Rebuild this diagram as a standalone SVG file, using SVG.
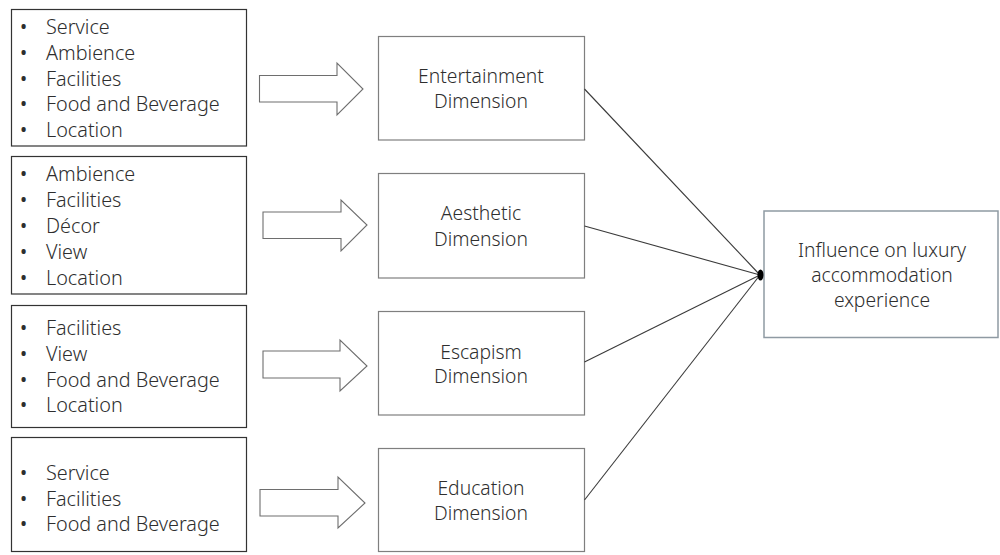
<svg xmlns="http://www.w3.org/2000/svg" width="1000" height="555" viewBox="0 0 1000 555">
<style>
text{font-family:"Noto Sans","Open Sans","Liberation Sans",sans-serif;fill:#2e2e2e;font-weight:300}
.lb{fill:#fff;stroke:#333;stroke-width:1.2}
.mb{fill:#fff;stroke:#7f7f7f;stroke-width:1.2}
.rb{fill:#fff;stroke:#8f9aa3;stroke-width:1.5}
.ar{fill:#fff;stroke:#6e6e6e;stroke-width:1.1;stroke-linejoin:miter}
.li{font-size:19.8px}
.bu{font-size:19px;font-weight:400}
.mt{font-size:19.3px;text-anchor:middle}
.cn{stroke:#3a3a3a;stroke-width:1.1;fill:none}
</style>
<rect width="1000" height="555" fill="#fff"/>
<g id="list1">
<rect class="lb" x="11.5" y="9.5" width="235" height="136.5"/>
<text class="bu" x="20" y="34">•</text><text class="li" x="46" y="34">Service</text>
<text class="bu" x="20" y="60">•</text><text class="li" x="46" y="60">Ambience</text>
<text class="bu" x="20" y="86">•</text><text class="li" x="46" y="86">Facilities</text>
<text class="bu" x="20" y="111">•</text><text class="li" x="46" y="111">Food and Beverage</text>
<text class="bu" x="20" y="137">•</text><text class="li" x="46" y="137">Location</text>
</g>
<g id="list2">
<rect class="lb" x="11.5" y="156.5" width="235" height="137.5"/>
<text class="bu" x="20" y="181">•</text><text class="li" x="46" y="181">Ambience</text>
<text class="bu" x="20" y="207">•</text><text class="li" x="46" y="207">Facilities</text>
<text class="bu" x="20" y="233">•</text><text class="li" x="46" y="233">Décor</text>
<text class="bu" x="20" y="259">•</text><text class="li" x="46" y="259">View</text>
<text class="bu" x="20" y="285">•</text><text class="li" x="46" y="285">Location</text>
</g>
<g id="list3">
<rect class="lb" x="11.5" y="305.5" width="235" height="122"/>
<text class="bu" x="20" y="335">•</text><text class="li" x="46" y="335">Facilities</text>
<text class="bu" x="20" y="361">•</text><text class="li" x="46" y="361">View</text>
<text class="bu" x="20" y="387">•</text><text class="li" x="46" y="387">Food and Beverage</text>
<text class="bu" x="20" y="412">•</text><text class="li" x="46" y="412">Location</text>
</g>
<g id="list4">
<rect class="lb" x="11.5" y="437.5" width="235" height="114"/>
<text class="bu" x="20" y="480">•</text><text class="li" x="46" y="480">Service</text>
<text class="bu" x="20" y="506">•</text><text class="li" x="46" y="506">Facilities</text>
<text class="bu" x="20" y="531">•</text><text class="li" x="46" y="531">Food and Beverage</text>
</g>
<g id="arrows">
<path class="ar" d="M259.5,75.5 H337 V63 L363,89 L337,115 V102 H259.5 Z"/>
<path class="ar" d="M263,212 H341 V200 L367,225 L341,251 V238.5 H263 Z"/>
<path class="ar" d="M263,351 H340 V340 L367,366 L340,391 V378 H263 Z"/>
<path class="ar" d="M260,489.5 H338 V477 L365,503 L338,528 V516 H260 Z"/>
</g>
<g id="entertainment">
<rect class="mb" x="378.5" y="36.5" width="206" height="103.5"/>
<text class="mt" x="481" y="83">Entertainment</text>
<text class="mt" x="481" y="108">Dimension</text>
</g>
<g id="aesthetic">
<rect class="mb" x="378.5" y="173.5" width="206" height="104.5"/>
<text class="mt" x="481" y="220">Aesthetic</text>
<text class="mt" x="481" y="246">Dimension</text>
</g>
<g id="escapism">
<rect class="mb" x="378.5" y="311.5" width="206" height="103.5"/>
<text class="mt" x="481" y="359">Escapism</text>
<text class="mt" x="481" y="383">Dimension</text>
</g>
<g id="education">
<rect class="mb" x="378.5" y="448.5" width="206" height="103"/>
<text class="mt" x="481" y="495">Education</text>
<text class="mt" x="481" y="520">Dimension</text>
</g>
<g id="influence">
<rect class="rb" x="764" y="211" width="234" height="126.5"/>
<text class="mt" x="882" y="257">Influence on luxury</text>
<text class="mt" x="882" y="282">accommodation</text>
<text class="mt" x="882" y="307">experience</text>
</g>
<g id="connectors">
<line class="cn" x1="584.5" y1="89" x2="760" y2="275"/>
<line class="cn" x1="584.5" y1="226" x2="760" y2="275"/>
<line class="cn" x1="584.5" y1="362" x2="760" y2="275"/>
<line class="cn" x1="584.5" y1="500" x2="760" y2="275"/>
<ellipse cx="760.5" cy="275" rx="3" ry="5.5" fill="#000"/>
</g>
</svg>
